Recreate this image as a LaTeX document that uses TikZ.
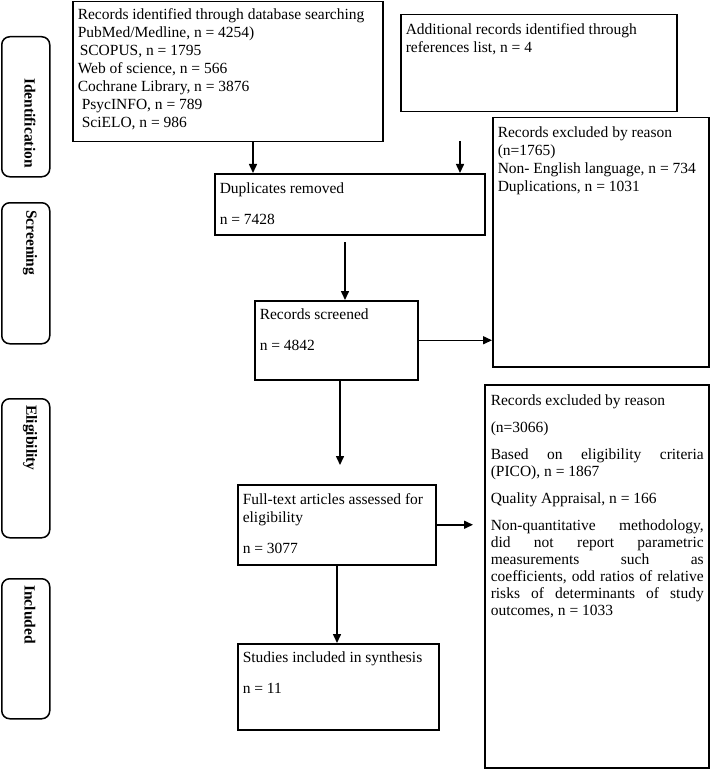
\documentclass[tikz,border=0pt]{standalone}
\usepackage{fontspec}
\setmainfont{Liberation Serif}
\usetikzlibrary{arrows.meta}
\newcommand{\tbox}[4]{\parbox[c][#2][t]{#1}{\vspace*{#3}\leftskip=5pt\parindent=0pt\strut #4}}
\begin{document}
\fontsize{15.5}{18}\selectfont
\begin{tikzpicture}[x=1pt,y=-1pt,
  box/.style={draw, line width=1.5pt, inner sep=0pt, anchor=north west},
  stagebox/.style={draw, line width=1.5pt, rounded corners=8pt, anchor=north west, inner sep=0pt, minimum width=48pt},
  stagelabel/.style={rotate=-90, anchor=west, inner sep=0pt, font=\bfseries},
  arr/.style={line width=1.5pt, -{Triangle[length=9pt,width=8pt]}}]
\useasboundingbox (0,0) rectangle (709,778);
% stage boxes
\node[stagebox, minimum height=140pt] (sid) at (1,36) {};
\node[stagebox, minimum height=141pt] (sscr) at (1,202) {};
\node[stagebox, minimum height=139pt] (selg) at (1,398) {};
\node[stagebox, minimum height=140pt] (sinc) at (1,578) {};
\node[stagelabel] (lid) at (30,78) {Identification};
\node[stagelabel] (lscr) at (30,210) {Screening};
\node[stagelabel] (lelg) at (30,405) {Eligibility};
\node[stagelabel] (linc) at (30,585) {Included};
% boxes
\node[box] (b1) at (72,1) {\tbox{310pt}{140pt}{5.4pt}{Records identified through database searching\\
PubMed/Medline, n = 4254)\\
\hspace*{2pt}SCOPUS, n = 1795\\
Web of science, n = 566\\
Cochrane Library, n = 3876\\
\hspace*{4pt}PsycINFO, n = 789\\
\hspace*{4pt}SciELO, n = 986}};
\node[box] (b2) at (400,14) {\tbox{276pt}{97pt}{7pt}{Additional records identified through\\
references list, n = 4}};
\node[box] (dup) at (214,173) {\tbox{270pt}{61pt}{7.4pt}{Duplicates removed\\[13pt]
n = 7428}};
\node[box] (ex1) at (492,117) {\tbox{216pt}{249pt}{7pt}{Records excluded by reason\\
(n=1765)\\
Non- English language, n = 734\\
Duplications, n = 1031}};
\node[box] (scr) at (254,300) {\tbox{163pt}{79pt}{6.4pt}{Records screened\\[13pt]
n = 4842}};
\node[box] (ex2) at (484,384) {\parbox[c][383pt][t]{224pt}{\vspace*{8.4pt}\hspace*{6pt}\parbox[t]{213pt}{\baselineskip=17pt\strut Records excluded by reason\\[10pt]
(n=3066)\\[10pt]
\makebox[213pt][s]{Based on eligibility criteria}\\
(PICO), n = 1867\\[10pt]
Quality Appraisal, n = 166\\[10pt]
\makebox[213pt][s]{Non-quantitative methodology,}\\
\makebox[213pt][s]{did not report parametric}\\
\makebox[213pt][s]{measurements such as}\\
\makebox[213pt][s]{coefficients, odd ratios of relative}\\
\makebox[213pt][s]{risks of determinants of study}\\
outcomes, n = 1033}}};
\node[box] (full) at (237,484) {\tbox{198pt}{80pt}{7.4pt}{Full-text articles assessed for\\
eligibility\\[13pt]
n = 3077}};
\node[box] (st) at (237,643) {\tbox{201pt}{86pt}{6.4pt}{Studies included in synthesis\\[13pt]
n = 11}};
% helper coordinates for free ends
\coordinate (x1) at (253,0);
\coordinate (s2) at (460,141);
\coordinate (s3) at (345,242);
\coordinate (e5) at (340,465);
\coordinate (e6) at (473,0);
\coordinate (x7) at (337,0);
% connectors
\draw[arr] (b1.south -| x1) -- (dup.north -| x1);
\draw[arr] (s2) -- (dup.north -| s2);
\draw[arr] (s3) -- (scr.north -| s3);
\draw[arr] (scr.east) -- (scr.east -| ex1.west);
\draw[arr] (scr.south -| e5) -- (e5);
\draw[arr] (full.east) -- (full.east -| e6);
\draw[arr] (full.south -| x7) -- (st.north -| x7);
\end{tikzpicture}
\end{document}
